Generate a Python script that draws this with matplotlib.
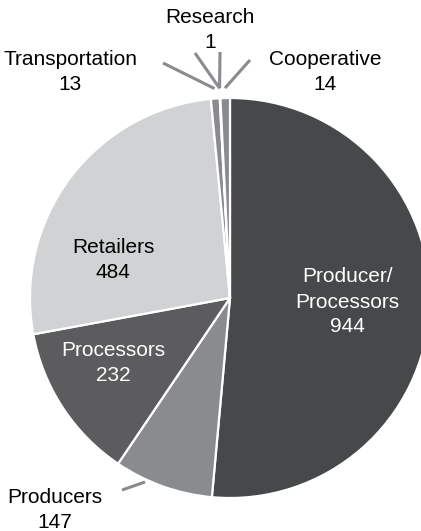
import numpy as np
import matplotlib.pyplot as plt

plt.rcParams['font.family'] = ['Liberation Sans', 'DejaVu Sans']

# membership by type
categories = ['Producer/\nProcessors', 'Producers', 'Processors', 'Retailers',
              'Transportation', 'Research', 'Cooperative']
counts = [944, 147, 232, 484, 13, 1, 14]
colors = ['#47484a', '#8a8b8e', '#5c5c5e', '#d1d2d4', '#8a8b8e', '#8a8b8e', '#8a8b8e']

# label centres (pie radius = 1), inside labels first
inside_pos = {0: (0.585, -0.02), 2: (-0.585, -0.325), 3: (-0.585, 0.19)}
inside_color = {0: 'white', 2: 'white', 3: 'black'}
outside_pos = {1: (-0.875, -1.06), 4: (-0.80, 1.13), 5: (-0.10, 1.34), 6: (0.475, 1.13)}
# far ends of the leader lines
leader_ends = {1: [(-0.54, -0.96)], 4: [(-0.335, 1.175)],
               5: [(-0.175, 1.225), (-0.05, 1.23)], 6: [(0.10, 1.19)]}

fig = plt.figure(figsize=(4.21, 5.31), dpi=100)
ax = fig.add_axes([0, 0, 1, 1])
wedges, _ = ax.pie(counts, colors=colors, startangle=90, counterclock=False,
                   radius=1.0, wedgeprops=dict(edgecolor='white', linewidth=1.6))

for i, w in enumerate(wedges):
    text = categories[i] + '\n' + str(counts[i])
    if i in inside_pos:
        x, y = inside_pos[i]
        ax.text(x, y, text, ha='center', va='center', fontsize=15,
                color=inside_color[i], linespacing=1.4)
    else:
        x, y = outside_pos[i]
        ax.text(x, y, text, ha='center', va='center', fontsize=15,
                color='black', linespacing=1.4)
        mid = np.deg2rad((w.theta1 + w.theta2) / 2)
        sx, sy = 1.05 * np.cos(mid), 1.05 * np.sin(mid)
        for ex, ey in leader_ends[i]:
            if i == 1:
                ax.plot([ex, ex + 0.115], [ey, ey + 0.04], color='#8a8b8e',
                        lw=2.2, solid_capstyle='butt')
            else:
                ax.plot([sx, ex], [sy, ey], color='#8a8b8e', lw=2.2,
                        solid_capstyle='butt')

ax.set_xlim(-1.15, 0.955)
ax.set_ylim(-1.165, 1.49)
ax.set_aspect('equal')
ax.axis('off')

fig.savefig('out.png', dpi=100)
